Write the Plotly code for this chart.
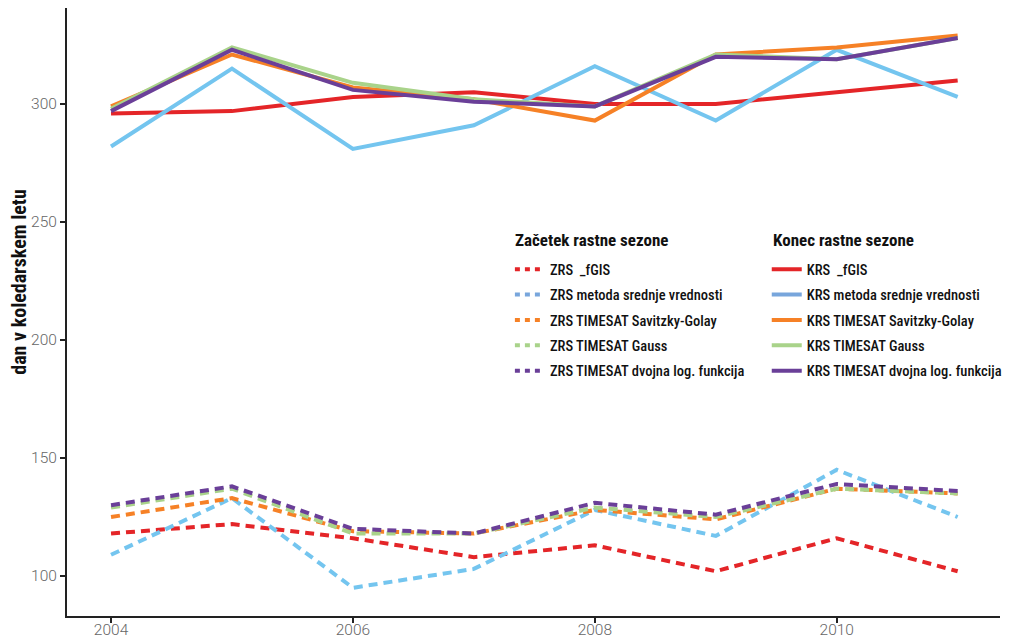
import plotly.graph_objects as go

years = [2004, 2005, 2006, 2007, 2008, 2009, 2010, 2011]

# Začetek rastne sezone (ZRS)
zrs_fgis = [118, 122, 116, 108, 113, 102, 116, 102]
zrs_srednje = [109, 133, 95, 103, 128, 117, 145, 125]
zrs_sg = [125, 133, 119, 118, 128, 124, 137, 135]
zrs_gauss = [129, 137, 118, 118, 129, 125, 137, 135]
zrs_dvojna = [130, 138, 120, 118, 131, 126, 139, 136]

# Konec rastne sezone (KRS)
krs_fgis = [296, 297, 303, 305, 300, 300, 305, 310]
krs_srednje = [282, 315, 281, 291, 316, 293, 323, 303]
krs_sg = [299, 321, 307, 302, 293, 321, 324, 329]
krs_gauss = [298, 324, 309, 302, 299, 321, 319, 328]
krs_dvojna = [297, 323, 306, 301, 299, 320, 319, 328]

names_zrs = ["ZRS  _fGIS", "ZRS metoda srednje vrednosti", "ZRS TIMESAT Savitzky-Golay",
             "ZRS TIMESAT Gauss", "ZRS TIMESAT dvojna log. funkcija"]
names_krs = ["KRS  _fGIS", "KRS metoda srednje vrednosti", "KRS TIMESAT Savitzky-Golay",
             "KRS TIMESAT Gauss", "KRS TIMESAT dvojna log. funkcija"]

title_zrs = "Začetek rastne sezone"
title_krs = "Konec rastne sezone"
y_title = "dan v koledarskem letu"

x_ticks = [2004, 2006, 2008, 2010]
y_ticks = [100, 150, 200, 250, 300]

colors = ["#e42528", "#74c5ef", "#f68126", "#a9d38a", "#6a3f98"]
legend_colors = ["#e42528", "#78a6dc", "#f68126", "#a9d38a", "#6a3f98"]

FONT = "Roboto Condensed, Roboto, sans-serif"
TICKFONT = "Roboto, sans-serif"

fig = go.Figure()

zrs_all = [zrs_fgis, zrs_srednje, zrs_sg, zrs_gauss, zrs_dvojna]
krs_all = [krs_fgis, krs_srednje, krs_sg, krs_gauss, krs_dvojna]

for i, (vals, name) in enumerate(zip(zrs_all, names_zrs)):
    fig.add_trace(go.Scatter(x=years, y=vals, mode="lines", name=name,
                             line=dict(color=colors[i], width=4, dash="9px,6px"),
                             showlegend=False))
for i, (vals, name) in enumerate(zip(krs_all, names_krs)):
    fig.add_trace(go.Scatter(x=years, y=vals, mode="lines", name=name,
                             line=dict(color=colors[i], width=4),
                             showlegend=False))

# legend entries
for i, name in enumerate(names_zrs):
    fig.add_trace(go.Scatter(x=[None], y=[None], mode="lines", name=name,
                             line=dict(color=legend_colors[i], width=4, dash="5px,5px"),
                             legend="legend", legendgroup="z%d" % i))
for i, name in enumerate(names_krs):
    fig.add_trace(go.Scatter(x=[None], y=[None], mode="lines", name=name,
                             line=dict(color=legend_colors[i], width=4),
                             legend="legend2", legendgroup="k%d" % i))

leg_common = dict(bgcolor="rgba(0,0,0,0)",
                  font=dict(family=FONT, size=14.5, color="#111", weight=500),
                  xanchor="left", yanchor="top", tracegroupgap=3.5, itemwidth=30)

axis_common = dict(showgrid=False, zeroline=False, showline=True, linecolor="#222", linewidth=2,
                   ticks="outside", ticklen=5, tickcolor="#222", tickwidth=1.5, automargin=False,
                   tickfont=dict(size=15.5, color="#666", family=TICKFONT, weight=300))

fig.update_layout(
    width=1011, height=639,
    paper_bgcolor="white", plot_bgcolor="white",
    margin=dict(l=59, r=19, t=0, b=31),
    font=dict(family=FONT, color="#555"),
    xaxis=dict(range=[2003.636, 2011.35], tickvals=x_ticks, ticklabelstandoff=-7, **axis_common),
    yaxis=dict(range=[83.05, 340.7], tickvals=y_ticks, **axis_common),
    legend=dict(x=0.4747, y=0.5965, **leg_common),
    legend2=dict(x=0.750, y=0.5965, **leg_common),
)

fig.add_annotation(x=0.478, y=0.618, xref="paper", yref="paper", xanchor="left", yanchor="middle",
                   showarrow=False, text="<b>" + title_zrs + "</b>",
                   font=dict(size=17, color="#111", family=FONT))
fig.add_annotation(x=0.7546, y=0.618, xref="paper", yref="paper", xanchor="left", yanchor="middle",
                   showarrow=False, text="<b>" + title_krs + "</b>",
                   font=dict(size=17, color="#111", family=FONT))
fig.add_annotation(x=-0.0509, y=0.549, xref="paper", yref="paper", xanchor="center", yanchor="middle",
                   showarrow=False, textangle=-90, text="<b>" + y_title + "</b>",
                   font=dict(size=20, color="#111", family=FONT))

fig.write_html("out.html")
